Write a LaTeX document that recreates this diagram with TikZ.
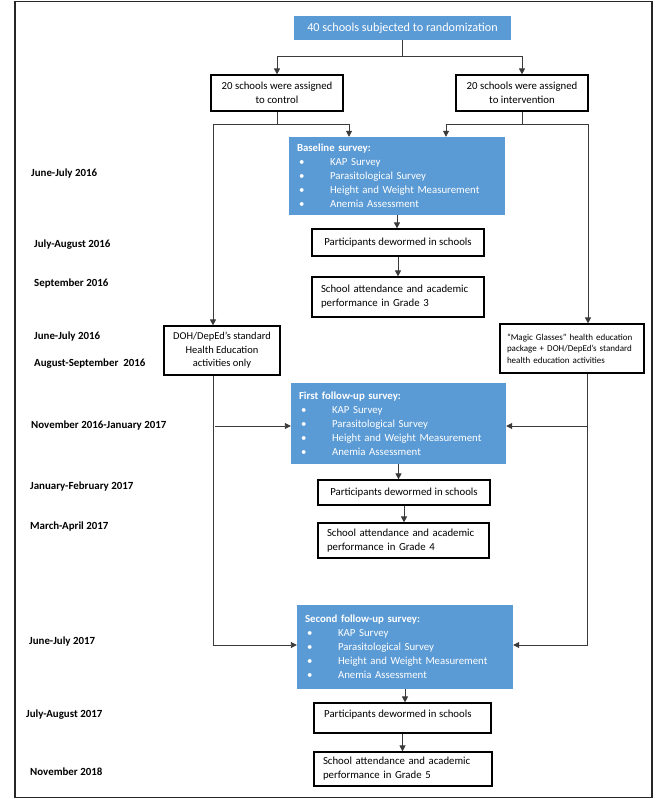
\documentclass[tikz,border=0pt]{standalone}
\usepackage{fontspec}
\setmainfont{Carlito}
\usetikzlibrary{arrows.meta}
\definecolor{sblue}{HTML}{5B9BD5}
\definecolor{lgray}{HTML}{3A3A3A}
\newcommand{\bul}{\makebox[33pt][l]{\hspace{2pt}•}}
\begin{document}
\begin{tikzpicture}[x=1pt,y=-1pt,
  wbox/.style={draw=black,line width=1.2pt,fill=white,inner sep=0pt,font=\fontsize{10.8}{14}\selectfont},
  cbox/.style={wbox,align=center},
  lbox/.style={wbox,align=left,inner xsep=9pt},
  survey/.style={fill=sblue,draw=none,text=white,align=left,inner ysep=0pt,inner xsep=8pt,font=\fontsize{10.8}{14}\selectfont},
  datelab/.style={anchor=west,font=\fontsize{10.9}{12}\selectfont\bfseries,inner sep=0pt},
  conn/.style={draw=lgray,line width=0.9pt},
  arr/.style={conn,-{Triangle[length=6pt,width=6pt]}}]
\useasboundingbox (0,0) rectangle (666,799);
\draw[line width=1.4pt,draw=black!85] (15,1.5) rectangle (652,797.5);

% top
\node[fill=sblue,text=white,minimum width=217pt,minimum height=24pt,inner sep=0pt,font=\fontsize{12.2}{14}\selectfont] (top) at (402.5,28) {40 schools subjected to randomization};
\node[cbox,minimum width=132pt,minimum height=36pt] (ctrl) at (277,93) {20 schools were assigned\\to control};
\node[cbox,minimum width=132pt,minimum height=36pt] (intv) at (522,93) {20 schools were assigned\\to intervention};

% baseline
\node[survey,text width=200pt,minimum height=78pt] (base) at (397,176) {\textbf{Baseline survey:}\\\bul KAP Survey\\\bul Parasitological Survey\\\bul Height and Weight Measurement\\\bul Anemia Assessment};
\node[cbox,minimum width=172pt,minimum height=27pt] (dw1) at (398,242.5) {Participants dewormed in schools};
\node[lbox,text width=154pt,minimum height=40pt] (sc1) at (398,297) {School attendance and academic\\performance in Grade 3};

% arms
\node[cbox,minimum width=116pt,minimum height=49pt,font=\fontsize{10.5}{13.5}\selectfont] (doh) at (222,350.5) {DOH/DepEd’s standard\\Health Education\\activities only};
\node[wbox,align=left,inner xsep=7pt,text width=130pt,minimum height=49pt,font=\fontsize{9}{11.5}\selectfont] (magic) at (572,348.5) {“Magic Glasses” health education\\package + DOH/DepEd’s standard\\health education activities};

% first follow-up
\node[survey,text width=199pt,minimum height=81pt] (fu1) at (398.5,423.5) {\textbf{First follow-up survey:}\\\bul KAP Survey\\\bul Parasitological Survey\\\bul Height and Weight Measurement\\\bul Anemia Assessment};
\node[cbox,minimum width=172pt,minimum height=25pt] (dw2) at (404,492.5) {Participants dewormed in schools};
\node[lbox,text width=153pt,minimum height=35pt] (sc2) at (403.5,540.5) {School attendance and academic\\performance in Grade 4};

% second follow-up
\node[survey,text width=200pt,minimum height=84pt] (fu2) at (405,647) {\textbf{Second follow-up survey:}\\\bul KAP Survey\\\bul Parasitological Survey\\\bul Height and Weight Measurement\\\bul Anemia Assessment};
\node[wbox,minimum width=177pt,minimum height=30pt] (dw3) at (402.5,718) {};
\node[anchor=west,inner sep=0pt,font=\fontsize{10.8}{14}\selectfont] (dw3t) at (324,715) {Participants dewormed in schools};
\node[lbox,text width=160pt,minimum height=34pt] (sc3) at (403,769) {School attendance and academic\\performance in Grade 5};

% date labels
\node[datelab] (l1) at (31,174) {June-July 2016};
\node[datelab] (l2) at (34,245) {July-August 2016};
\node[datelab] (l3) at (34,284) {September 2016};
\node[datelab] (l4) at (34,337) {June-July 2016};
\node[datelab] (l5) at (34,364) {August-September\ \ 2016};
\node[datelab] (l6) at (31,426) {November 2016-January 2017};
\node[datelab] (l7) at (30,487) {January-February 2017};
\node[datelab] (l8) at (30,527) {March-April 2017};
\node[datelab] (l9) at (29,642) {June-July 2017};
\node[datelab] (l10) at (26,715) {July-August 2017};
\node[datelab] (l11) at (30,772) {November 2018};

% connectors
\coordinate (jt) at (402.5,56);
\draw[conn] (top.south) -- (jt);
\draw[arr] (jt) -| (ctrl.north);
\draw[arr] (jt) -| (intv.north);

\coordinate (jc) at (277,124);
\coordinate (jcL) at (213,124);
\coordinate (jcR) at (349,124);
\draw[conn] (ctrl.south) -- (jc);
\draw[arr] (jcL) -- (jcR) -- (jcR |- base.north);
\draw[arr] (jcL) -- (jcL |- doh.north);

\coordinate (ji) at (522,124);
\coordinate (jiL) at (446,124);
\coordinate (jiR) at (588,124);
\draw[conn] (intv.south) -- (ji);
\draw[arr] (jiR) -- (jiL) -- (jiL |- base.north);
\draw[arr] (jiR) -- (jiR |- magic.north);

\draw[arr] (base.south) -- (base.south |- dw1.north);
\draw[arr] (dw1.south) -- (dw1.south |- sc1.north);

\coordinate (dl) at (213,645);
\coordinate (b1) at (215,426);
\draw[arr] (doh.south -| dl) -- (dl) -- (dl -| fu2.west);
\draw[arr] (b1) -- (b1 -| fu1.west);

\coordinate (dr) at (587,645);
\coordinate (b2) at (587,426);
\draw[arr] (magic.south -| dr) -- (dr) -- (dr -| fu2.east);
\draw[arr] (b2) -- (b2 -| fu1.east);

\draw[arr] (fu1.south) -- (fu1.south |- dw2.north);
\draw[arr] (dw2.south) -- (dw2.south |- sc2.north);
\draw[arr] (fu2.south) -- (fu2.south |- dw3.north);
\draw[arr] (dw3.south) -- (dw3.south |- sc3.north);
\end{tikzpicture}
\end{document}
